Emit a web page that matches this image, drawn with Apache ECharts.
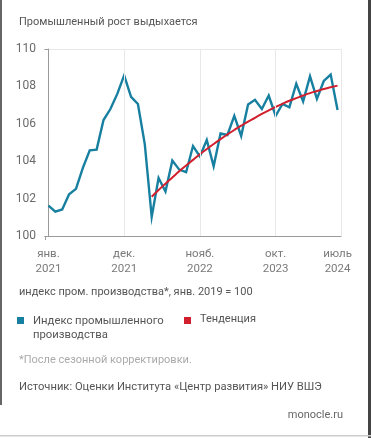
<!DOCTYPE html>
<html>
<head>
<meta charset="utf-8">
<script src="https://cdn.jsdelivr.net/npm/echarts@6/dist/echarts.min.js"></script>
<style>
html,body{margin:0;padding:0;background:#fff;}
#c{width:371px;height:438px;}
</style>
</head>
<body>
<div id="c"></div>
<script>
// Monthly data, Jan 2021 .. Jul 2024 (43 months)
const months = ['янв. 2021','февр. 2021','март 2021','апр. 2021','май 2021','июнь 2021','июль 2021','авг. 2021','сент. 2021','окт. 2021','нояб. 2021','дек. 2021',
  'янв. 2022','февр. 2022','март 2022','апр. 2022','май 2022','июнь 2022','июль 2022','авг. 2022','сент. 2022','окт. 2022','нояб. 2022','дек. 2022',
  'янв. 2023','февр. 2023','март 2023','апр. 2023','май 2023','июнь 2023','июль 2023','авг. 2023','сент. 2023','окт. 2023','нояб. 2023','дек. 2023',
  'янв. 2024','февр. 2024','март 2024','апр. 2024','май 2024','июнь 2024','июль 2024'];
const indexValues = [101.62,101.30,101.42,102.23,102.52,103.64,104.58,104.62,106.20,106.79,107.60,108.59,
  107.44,107.06,104.90,101.02,103.10,102.38,104.04,103.55,103.41,104.81,104.25,105.13,
  103.73,105.48,105.40,106.42,105.35,107.03,107.28,106.79,107.51,106.43,107.06,106.88,
  108.14,107.20,108.54,107.33,108.29,108.63,106.74];
// Trend values, from Apr 2022 (month index 15) to Jul 2024
const trendStart = 15;
const trendValues = [102.10,102.46,102.80,103.13,103.46,103.77,104.07,104.37,104.65,104.92,105.18,105.43,
  105.67,105.90,106.12,106.32,106.53,106.72,106.90,107.07,107.23,107.37,107.51,107.64,107.75,107.86,107.95,108.04];
const xTickIdx = [0,11,22,33,42];
const xTickLabels = ['янв.\n2021','дек.\n2021','нояб.\n2022','окт.\n2023','июль\n2024'];
const yTicks = [100,102,104,106,108,110];

const FONT = 'Roboto, sans-serif';
const indexData = indexValues.map((v,i)=>[i,v]);
const trendData = trendValues.map((v,i)=>[i+trendStart,v]);

const chart = echarts.init(document.getElementById('c'), null, {renderer:'canvas'});
chart.setOption({
  animation:false,
  backgroundColor:'#fff',
  grid:{left:45,right:30,top:49,bottom:202},
  xAxis:{
    type:'value', min:-0.5, max:42.5,
    axisLine:{show:true,lineStyle:{color:'#9a9a9a',width:1}},
    axisTick:{show:true,customValues:[-0.5],length:4,lineStyle:{color:'#9a9a9a'}},
    splitLine:{show:false},
    axisLabel:{
      customValues:xTickIdx,
      formatter:(v)=>{const k=xTickIdx.indexOf(Math.round(v));return k>=0?xTickLabels[k]:'';},
      color:'#7a7a7a', fontFamily:FONT, fontSize:11.5, lineHeight:14.5, margin:11
    }
  },
  yAxis:{
    type:'value', min:100, max:110, interval:2,
    axisLine:{show:true,lineStyle:{color:'#9a9a9a',width:1}},
    axisTick:{show:true,customValues:[100,110],length:4,lineStyle:{color:'#9a9a9a'}},
    splitLine:{show:true,lineStyle:{color:'#e8e8e8',width:1}},
    axisLabel:{color:'#6a6a6a',fontFamily:FONT,fontSize:12,margin:9}
  },
  series:[
    {
      type:'line', data:[], silent:true, z:1,
      markLine:{
        silent:true, symbol:'none', animation:false,
        label:{show:false},
        lineStyle:{color:'#e8e8e8',width:1,type:'solid'},
        data:[{xAxis:11},{xAxis:22},{xAxis:33},{xAxis:42.5}]
      }
    },
    {
      name:'Индекс промышленного производства', type:'line', data:indexData,
      showSymbol:false, z:3,
      lineStyle:{color:'#177fa0',width:2.4,join:'miter'}, itemStyle:{color:'#177fa0'}
    },
    {
      name:'Тенденция', type:'line', data:trendData, smooth:true,
      showSymbol:false, z:4,
      lineStyle:{color:'#d21f2d',width:2}, itemStyle:{color:'#d21f2d'}
    }
  ],
  graphic:[
    {type:'text',left:19,top:17,style:{text:'Промышленный рост выдыхается',fill:'#555',font:'11px '+FONT}},
    {type:'text',left:19,top:287,style:{text:'индекс пром. производства*, янв. 2019 = 100',fill:'#555',font:'11px '+FONT}},
    {type:'rect',shape:{x:17,y:317,width:7,height:7},style:{fill:'#177fa0'}},
    {type:'text',left:33,top:314,style:{text:'Индекс промышленного\nпроизводства',fill:'#555',font:'11.3px '+FONT,lineHeight:14}},
    {type:'rect',shape:{x:184,y:317,width:7,height:7},style:{fill:'#d21f2d'}},
    {type:'text',left:200,top:314,style:{text:'Тенденция',fill:'#555',font:'11px '+FONT}},
    {type:'text',left:19,top:355,style:{text:'*После сезонной корректировки.',fill:'#aaa',font:'11px '+FONT}},
    {type:'text',left:19,top:382,style:{text:'Источник: Оценки Института «Центр развития» НИУ ВШЭ',fill:'#555',font:'11.2px '+FONT}},
    {type:'text',right:28,top:410,style:{text:'monocle.ru',fill:'#666',font:'11px '+FONT}},
    {type:'rect',shape:{x:0,y:0,width:2,height:405},style:{fill:'#666'}},
    {type:'rect',shape:{x:368,y:0,width:3,height:438},style:{fill:'#444'}},
    {type:'rect',shape:{x:0,y:435,width:371,height:1.5},style:{fill:'#ccc'}}
  ]
});
</script>
</body>
</html>
